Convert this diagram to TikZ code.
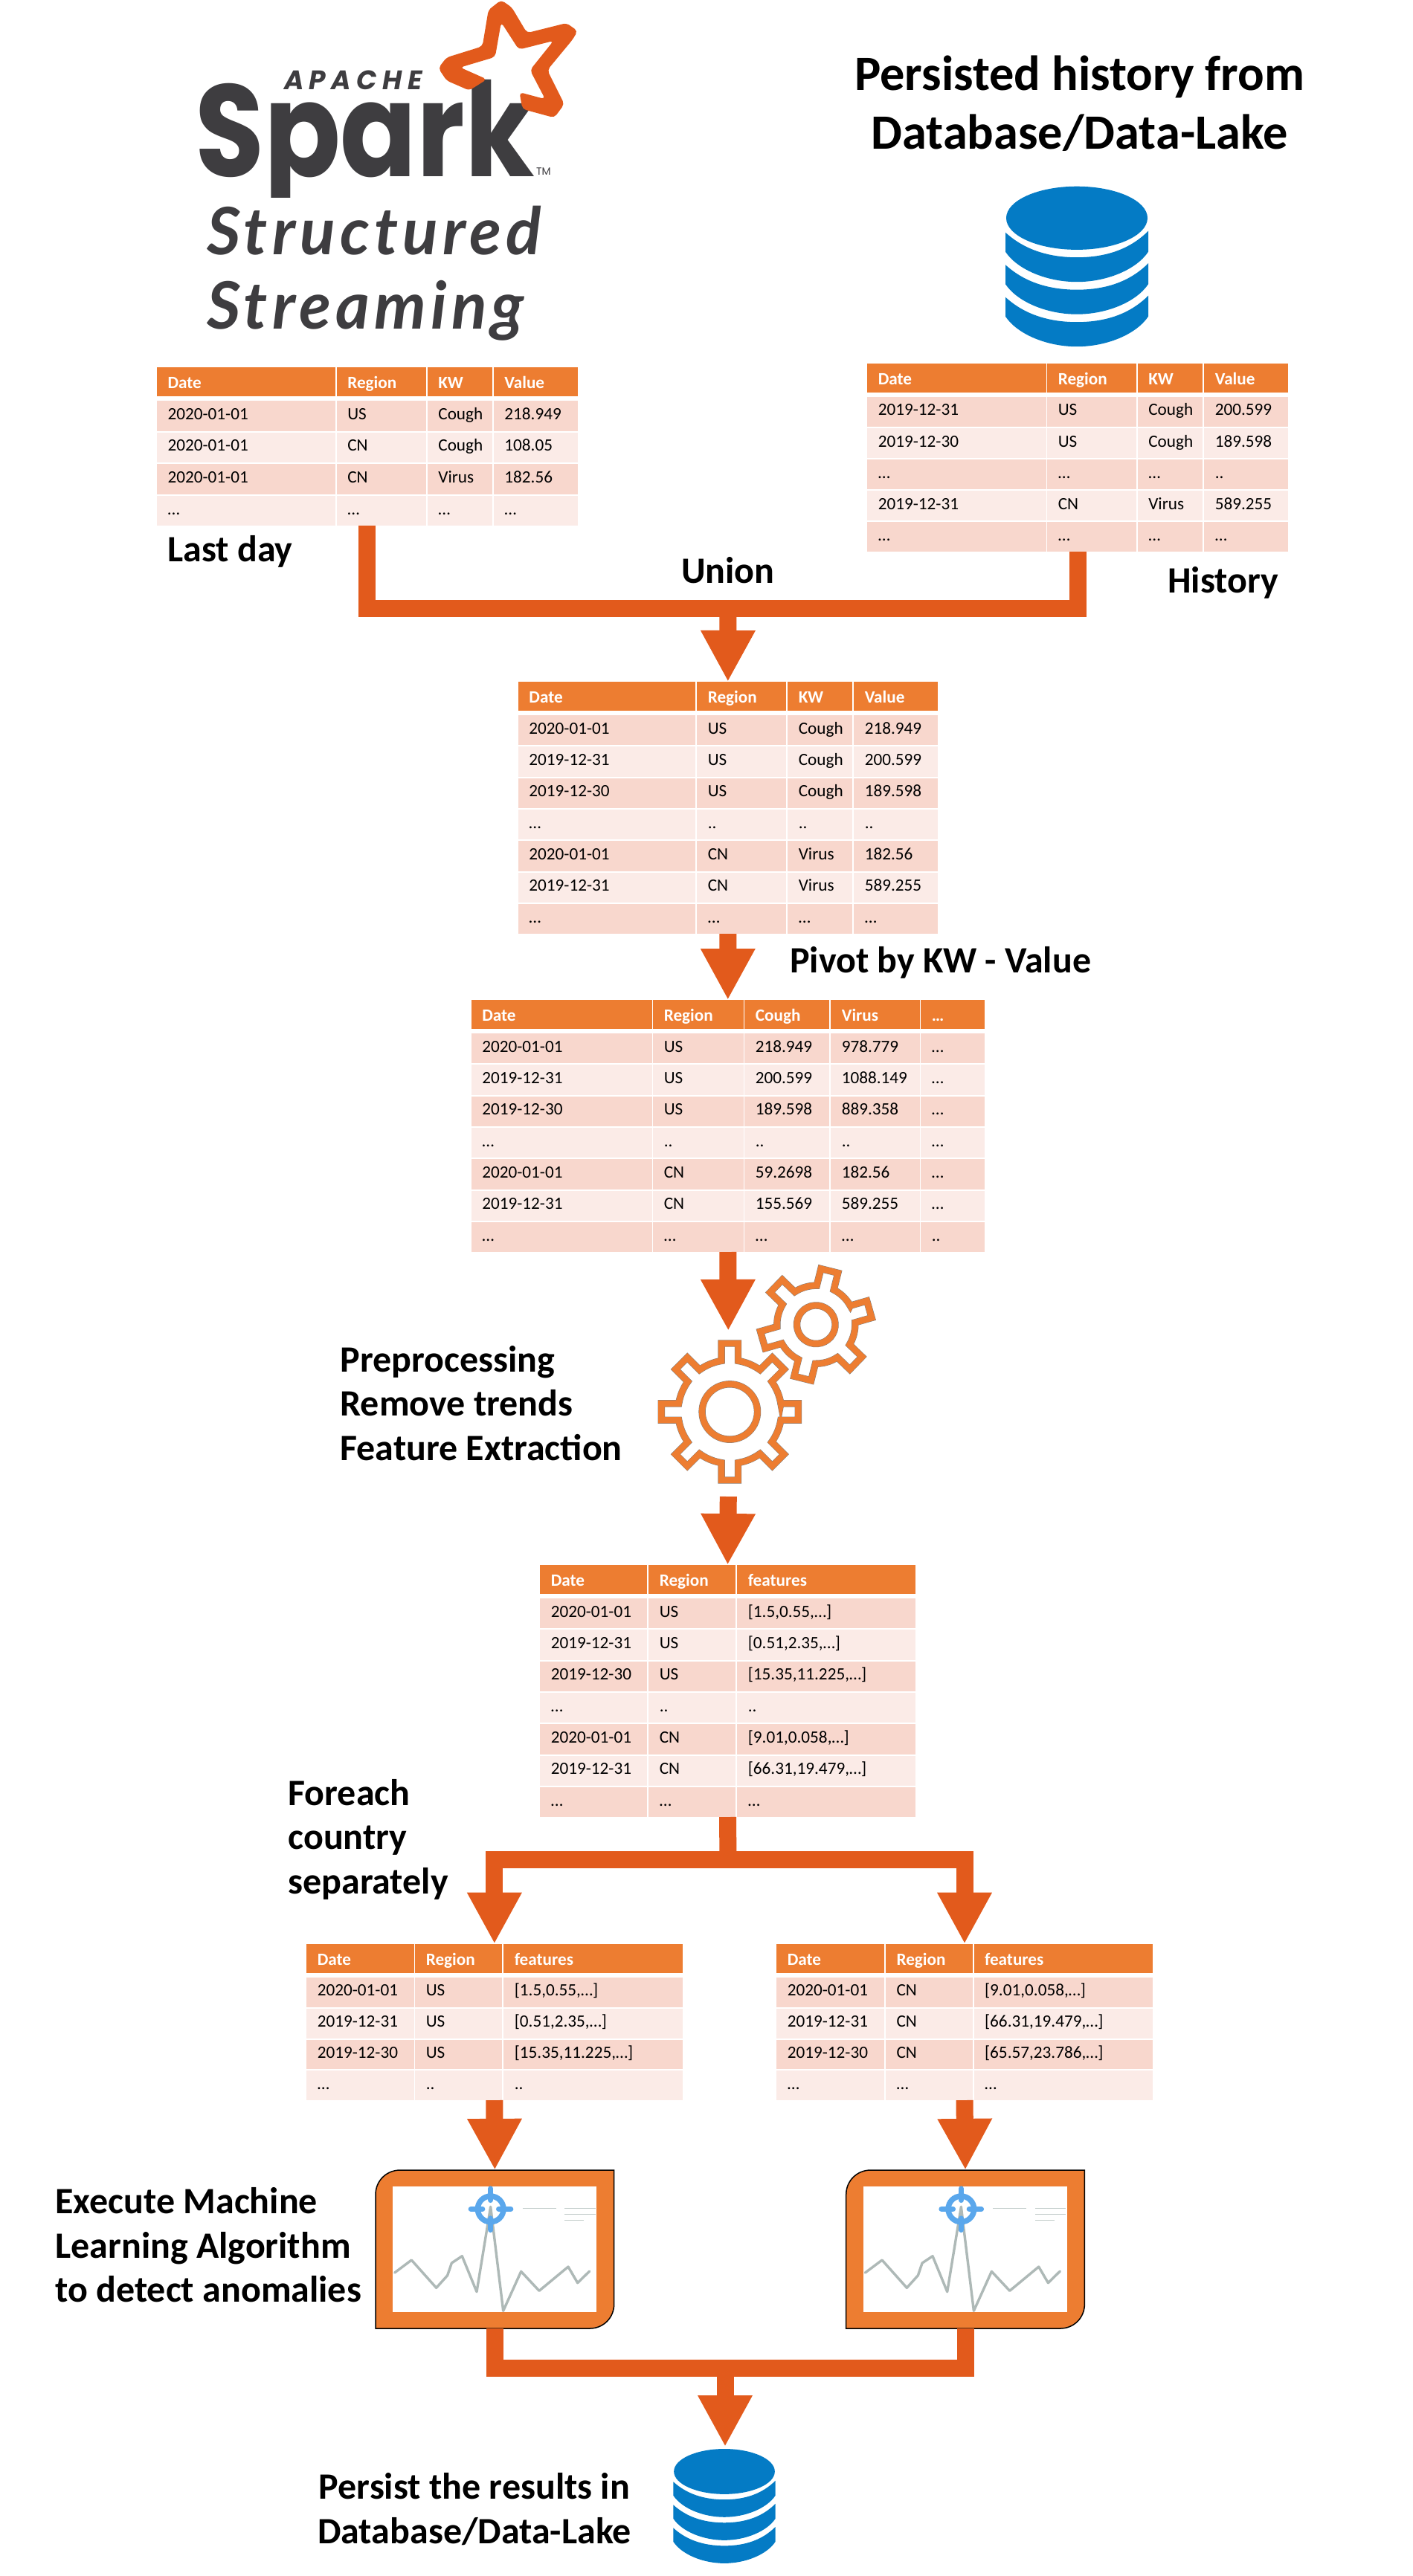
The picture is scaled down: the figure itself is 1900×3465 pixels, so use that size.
\documentclass[tikz,border=0pt]{standalone}
\usepackage{graphicx}
\usepackage{fontspec}
\usetikzlibrary{arrows.meta}
\setmainfont{Carlito}
\newfontfamily\poppfont{Poppins}
\newfontfamily\apachefont[LetterSpace=20.5]{Poppins}
\newfontfamily\handfont[LetterSpace=7]{Lato}
\definecolor{spark}{HTML}{E25A1C}
\definecolor{hdr}{HTML}{ED7D31}
\definecolor{rowa}{HTML}{F8D7CD}
\definecolor{rowb}{HTML}{FBEBE7}
\definecolor{dbblue}{HTML}{047BC5}
\definecolor{logogrey}{HTML}{3E3D40}
\definecolor{chartgrey}{HTML}{AEB9B7}
\definecolor{chartlight}{HTML}{C3CDCB}
\definecolor{target}{HTML}{5AA7EC}
\tikzset{
  cellbase/.style={anchor=north west,inner sep=0pt,font=\fontsize{11.6}{14}\selectfont},
  headcell/.style={cellbase,fill=hdr,text=white,font=\fontsize{11.6}{14}\selectfont\bfseries},
  cella/.style={cellbase,fill=rowa,text=black},
  cellb/.style={cellbase,fill=rowb,text=black},
  ghost/.style={inner sep=0pt,outer sep=0pt},
  flow/.style={draw=spark,line width=11.5pt,-{Triangle[length=34.5pt,width=34.25pt]},spark},
  trunk/.style={draw=spark,line width=11.5pt},
  label/.style={anchor=base west,inner sep=0pt,align=left,font=\fontsize{25}{29.7}\selectfont\bfseries,text=black},
  gearline/.style={draw=black!50,double=hdr,double distance=4.2pt,line width=.25pt},
}
% name, xmin, xmax, ytop, ybot, lefts, rights, number of body rows, rows
\newcommand{\mktable}[9]{%
  \pgfmathsetmacro\tw{(#3-#2)*.5}\pgfmathsetmacro\th{(#5-#4)*.5}%
  \node[ghost,minimum width=\tw pt,minimum height=\th pt] (#1) at ({(#2+#3)/2},{(#4+#5)/2}) {};
  \pgfmathsetmacro\rstep{(#5-#4-44.5+2)/#8}%
  \foreach[count=\ri] \row in {#9}{%
    \foreach[count=\ci] \cell in \row {%
      \pgfmathsetmacro\xa{{#6}[\ci-1]}%
      \pgfmathsetmacro\xb{{#7}[\ci-1]}%
      \pgfmathsetmacro\cw{(\xb-\xa)*.5}%
      \pgfmathtruncatemacro\odd{mod(\ri,2)}%
      \ifnum\ri=1
        \pgfmathsetmacro\yt{#4}%
        \node[headcell,text height=14pt,text depth=5.25pt] (#1-\ri-\ci) at (\xa,\yt)
          {\makebox[\cw pt][l]{\hspace*{7.2pt}\cell}};
      \else
        \pgfmathsetmacro\yt{#4+44.5+(\ri-2)*\rstep}%
        \pgfmathsetmacro\tht{(\rstep-2)*.5*.625}%
        \pgfmathsetmacro\tdp{(\rstep-2)*.5*.375}%
        \ifnum\odd=0
          \node[cella,text height=\tht pt,text depth=\tdp pt] (#1-\ri-\ci) at (\xa,\yt)
            {\makebox[\cw pt][l]{\hspace*{7.2pt}\cell}};
        \else
          \node[cellb,text height=\tht pt,text depth=\tdp pt] (#1-\ri-\ci) at (\xa,\yt)
            {\makebox[\cw pt][l]{\hspace*{7.2pt}\cell}};
        \fi
      \fi
    }%
  }%
}
% name, cx, top, scale
\newcommand{\dbicon}[4]{%
  \pgfmathsetmacro\dw{192*#4*.5}\pgfmathsetmacro\dh{217*#4*.5}%
  \node[ghost,minimum width=\dw pt,minimum height=\dh pt] (#1) at (#2,{#3+108.5*#4}) {};
  \begin{scope}[shift={(#2,#3)},x=#4*.5pt,y=-#4*.5pt]
    \fill[dbblue] (0,42.6) ellipse [x radius=95,y radius=42.6];
    \foreach \d in {0,43.5,87}{
      \fill[dbblue] (-96,62+\d) .. controls (-72,84+\d) and (-40,95.5+\d) .. (0,95.5+\d)
        .. controls (40,95.5+\d) and (72,84+\d) .. (96,60+\d) -- (96,88+\d)
        .. controls (80,112+\d) and (40,128.5+\d) .. (0,128.5+\d)
        .. controls (-40,128.5+\d) and (-80,112+\d) .. (-96,88+\d) -- cycle;
    }
  \end{scope}
}
% name, cx, cy, teeth, rot, body, tip, half width, hole
\newcommand{\gearicon}[9]{%
  \pgfmathsetmacro\gd{(#7+5)}%
  \node[ghost,minimum size=\gd pt] (#1) at (#2,#3) {};
  \begin{scope}[shift={(#2,#3)},rotate=#5]
    \pgfmathsetmacro\gang{asin(#8/#6)}%
    \pgfmathsetmacro\gx{#6*cos(\gang)}%
    \pgfmathsetmacro\gstep{360/#4}%
    \pgfmathsetmacro\glast{360-\gstep}%
    \draw[gearline] (\gx,-#8)
      \foreach \a in {0,\gstep,...,\glast}{
        -- ([rotate=-\a]#7,-#8) -- ([rotate=-\a]#7,#8) -- ([rotate=-\a]\gx,#8)
        arc[start angle=\a+\gang,end angle=\a+\gstep-\gang,radius=#6]
      } -- cycle;
    \draw[gearline] (0,0) circle [radius=#9];
  \end{scope}
}
% name, dx
\newcommand{\anomaly}[2]{%
  \node[ghost,minimum width=160.35pt,minimum height=106.5pt] (#1) at ({665.35+#2},3025.35) {};
  \begin{scope}[shift={(#2,0)}]
    \draw[draw=black,fill=hdr,line width=.75pt] (505,2952)
      .. controls (505,2933) and (520,2919) .. (538,2919) -- (825.7,2919) -- (825.7,3099)
      .. controls (825.7,3118) and (811,3132) .. (793,3132) -- (505,3132) -- cycle;
    \fill[white] (528,2941) rectangle (802,3110);
    \begin{scope}[shift={(480,2880)},x=.16667pt,y=-.16667pt]
      \draw[chartgrey,line width=1.7pt,line cap=round,line join=round]
        (152,531)--(220,480)--(320,592)--(365,542)--(382,492)--(424,464)--(483,608)--(539,265)--(590,685)--(662,526)--(735,604)--(852,507)--(890,572)--(938,525);
      \draw[chartlight,line width=.7pt] (668,271)--(803,271) (838,271)--(962,271) (838,295)--(962,295) (838,319)--(916,319);
      \draw[target,line width=3.7pt] (539,274) circle [radius=52];
      \draw[target,line width=3.7pt,line cap=round] (539,192)--(539,238) (539,312)--(539,358) (460,274)--(506,274) (572,274)--(620,274);
    \end{scope}
  \end{scope}
}
\begin{document}
\begin{tikzpicture}[x=.5pt,y=-.5pt]
\useasboundingbox (0,0) rectangle (1900,3465);
\fill[white] (0,0) rectangle (1900,3465);

% logo
\node[ghost,anchor=base west,text=logogrey,font=\fontsize{88}{88}\selectfont\poppfont\bfseries] (spark) at (262,237) {\scalebox{.86}[1]{Spark}};
\fill[white] (262,266) rectangle (720,290);
\node[ghost,anchor=base west,text=logogrey,font=\fontsize{18}{18}\selectfont\apachefont\bfseries\itshape] (apache) at (382,120.5) {APACHE};
\node[ghost,anchor=base west,text=logogrey,font=\fontsize{7}{7}\selectfont\poppfont] (tm) at (721,235) {TM};
\begin{scope}[shift={(180,0)},x=.2041pt,y=-.16667pt]
  \fill[spark,rounded corners=2.5pt,even odd rule] (1105,365)--(1030,325)--(1003,275)--(1030,232)--(1148,187)--(1168,40)--(1210,0)--(1245,30)--(1295,133)--(1425,93)--(1462,125)--(1445,160)--(1362,283)--(1418,420)--(1385,475)--(1280,440)--(1270,372)--(1355,400)--(1305,283)--(1382,165)--(1268,200)--(1210,90)--(1190,230)--(1075,272)--(1163,320)--cycle;
\end{scope}
\node[ghost,anchor=base west,text=logogrey,font=\fontsize{44}{44}\selectfont\handfont\bfseries\itshape] (st1) at (278,342) {Structured};
\node[ghost,anchor=base west,text=logogrey,font=\fontsize{44}{44}\selectfont\handfont\bfseries\itshape] (st2) at (278,442) {Streaming};

% headings
\node[ghost,align=center,font=\fontsize{33.2}{39.5}\selectfont\bfseries,anchor=base] (ph) at (1451.6,200.7) {Persisted history from\\Database/Data-Lake};
\dbicon{db1}{1448}{250.7}{1}

% tables
\mktable{t1}{210.7}{777}{494}{707}{210.7,452.5,574.6,663.6}{451,572.6,661.6,777}{4}{
  {Date,Region,KW,Value},
  {2020-01-01,US,Cough,218.949},
  {2020-01-01,CN,Cough,108.05},
  {2020-01-01,CN,Virus,182.56},
  {…,…,…,…}}
\mktable{t2}{1166}{1732}{489}{742}{1166,1408,1529.5,1619}{1406.5,1527.5,1617,1732}{5}{
  {Date,Region,KW,Value},
  {2019-12-31,US,Cough,200.599},
  {2019-12-30,US,Cough,189.598},
  {…,…,…,..},
  {2019-12-31,CN,Virus,589.255},
  {…,…,…,…}}
\mktable{t3}{696.6}{1261}{917}{1256}{696.6,937,1059,1148}{935,1057,1145.5,1261}{7}{
  {Date,Region,KW,Value},
  {2020-01-01,US,Cough,218.949},
  {2019-12-31,US,Cough,200.599},
  {2019-12-30,US,Cough,189.598},
  {…,..,..,..},
  {2020-01-01,CN,Virus,182.56},
  {2019-12-31,CN,Virus,589.255},
  {…,…,…,…}}
\mktable{t4}{633.5}{1324}{1345}{1684}{633.5,878,1001,1117,1238}{876.5,999.5,1115,1237,1324}{7}{
  {Date,Region,Cough,Virus,…},
  {2020-01-01,US,218.949,978.779,…},
  {2019-12-31,US,200.599,1088.149,…},
  {2019-12-30,US,189.598,889.358,…},
  {…,..,..,..,…},
  {2020-01-01,CN,59.2698,182.56,…},
  {2019-12-31,CN,155.569,589.255,…},
  {…,…,…,…,..}}
\mktable{t5}{726}{1231}{2105}{2444}{726,872,991}{870,989,1231}{7}{
  {Date,Region,features},
  {2020-01-01,US,{[1.5,0.55,…]}},
  {2019-12-31,US,{[0.51,2.35,…]}},
  {2019-12-30,US,{[15.35,11.225,…]}},
  {…,..,..},
  {2020-01-01,CN,{[9.01,0.058,…]}},
  {2019-12-31,CN,{[66.31,19.479,…]}},
  {…,…,…}}
\mktable{t6}{412}{917.7}{2614.7}{2825}{412,558,677}{556.7,675,917.7}{4}{
  {Date,Region,features},
  {2020-01-01,US,{[1.5,0.55,…]}},
  {2019-12-31,US,{[0.51,2.35,…]}},
  {2019-12-30,US,{[15.35,11.225,…]}},
  {…,..,..}}
\mktable{t7}{1044}{1550}{2614.7}{2825}{1044,1190.7,1309.3}{1189,1307.3,1550}{4}{
  {Date,Region,features},
  {2020-01-01,CN,{[9.01,0.058,…]}},
  {2019-12-31,CN,{[66.31,19.479,…]}},
  {2019-12-30,CN,{[65.57,23.786,…]}},
  {…,…,…}}

% gears
\gearicon{gearb}{1097.3}{1781.7}{6}{16}{52.5}{74.5}{11.8}{25.8}
\gearicon{geara}{981.3}{1899}{8}{0}{69.5}{92}{11.2}{37.2}

% anomaly panels
\anomaly{boxa}{0}
\anomaly{boxb}{632.7}
\dbicon{db2}{974}{3294}{.714}

% labels
\node[label] (lastday) at (225,755) {Last day};
\node[label] (history) at (1570,797.6) {History};
\node[label] (union) at (915.7,784.7) {Union};
\node[label] (pivot) at (1061.7,1308) {Pivot by KW - Value};
\node[label] (prep) at (457,1964) {Preprocessing\\Remove trends\\Feature Extraction};
\node[label] (foreach) at (387,2547) {Foreach\\country\\separately};
\node[label] (exec) at (74,3096.7) {Execute Machine\\Learning Algorithm\\to detect anomalies};
\node[label,align=center,anchor=base] (persist) at (638,3421) {Persist the results in\\Database/Data-Lake};

% connectors
\coordinate (ju) at (979,818);
\coordinate (gin) at (979.3,1790);
\coordinate (gout) at (979.3,2013);
\coordinate (js) at (979,2501.5);
\coordinate (jm) at (975,3185.3);
\coordinate (dbin) at (975,3291);
\draw[trunk] (t1.south) |- (ju) -| (t2.south);
\draw[flow] (ju) -- (t3.north);
\draw[flow] (t3.south) -- (t4.north);
\draw[flow] (t4.south) -- (gin);
\draw[flow] (gout) -- (t5.north);
\draw[trunk] (t5.south) -- (js);
\draw[flow] (js) -| (t6.north);
\draw[flow] (js) -| (t7.north);
\draw[flow] (t6.south) -- (boxa.north);
\draw[flow] (t7.south) -- (boxb.north);
\draw[trunk] (boxa.south) |- (jm) -| (boxb.south);
\draw[flow] (jm) -- (dbin);
\end{tikzpicture}
\end{document}
